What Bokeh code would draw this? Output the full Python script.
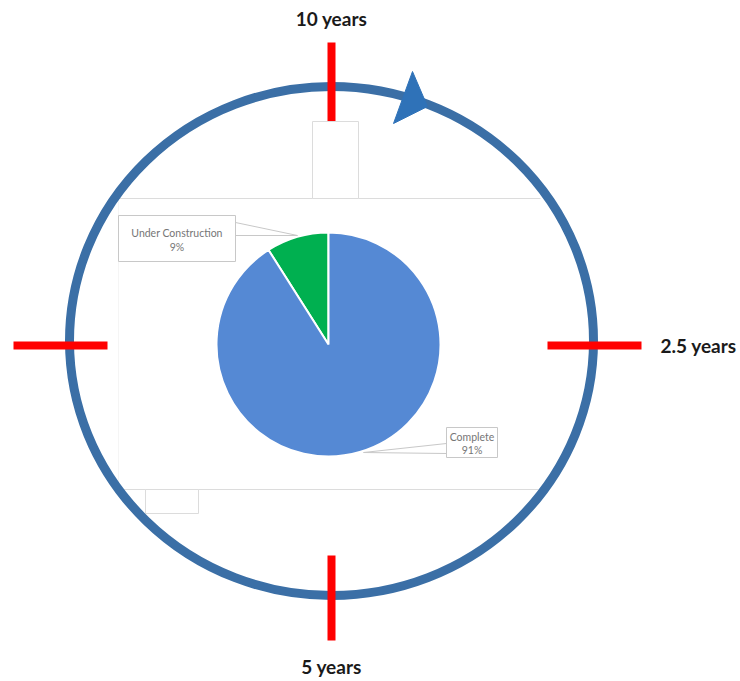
import math
from bokeh.plotting import figure
from bokeh.models import Range1d
from bokeh.core.properties import value
from bokeh.embed import file_html
from bokeh.resources import INLINE

# ---- data ----
categories = ["Complete", "Under Construction"]
shares = [91, 9]
pie_colors = ["#5589d4", "#00b050"]
timeline_labels = ["10 years", "2.5 years", "5 years"]

W, H = 740, 681
p = figure(width=W, height=H, output_backend="svg", toolbar_location=None,
           x_range=Range1d(0, W), y_range=Range1d(0, H),
           min_border=0, outline_line_color=None)
p.axis.visible = False
p.grid.visible = False
p.background_fill_color = "white"
p.border_fill_color = "white"

def Y(y):  # image pixel row -> data y
    return H - y

# chart-area faint outlines
grey = "#dcdcdc"
p.line([118, 540], [Y(198), Y(198)], line_color=grey, line_width=1)
p.line([118, 118], [Y(198), Y(489)], line_color="#f5f5f5", line_width=1)
p.line([118, 538], [Y(489), Y(489)], line_color=grey, line_width=1)
p.quad(left=145, right=198, top=Y(489), bottom=Y(513), fill_color="white",
       line_color=grey, line_width=1)

# ring
p.ellipse(x=331, y=Y(340.5), width=524, height=509, fill_color=None,
          line_color="#3b6fa6", line_width=9)
# arrow head
p.patch([412, 427, 393], [Y(71), Y(106), Y(123)], fill_color="#2f72b8",
        line_color="#2f72b8", line_width=1)

# red ticks
red = "#ff0000"
p.line([331, 331], [Y(42), Y(125)], line_color=red, line_width=8)
p.line([331, 331], [Y(555), Y(640)], line_color=red, line_width=8)
p.line([13, 107], [Y(345), Y(345)], line_color=red, line_width=8)
p.line([547, 641], [Y(345), Y(345)], line_color=red, line_width=8)

# white box covering tick
p.quad(left=312, right=358, top=Y(121), bottom=Y(198), fill_color="white",
       line_color=grey, line_width=1)

# pie
cx, cy, r = 328, Y(344), 112
total = sum(shares)
start = math.pi / 2
order = [1, 0]
for i in order:
    ang = shares[i] / total * 2 * math.pi
    p.wedge(x=cx, y=cy, radius=r, start_angle=start, end_angle=start + ang,
            fill_color=pie_colors[i], line_color="white", line_width=2)
    start += ang

# callouts
box_line = "#c8c8c8"
txt_col = "#767676"
p.line([235, 297, 235], [Y(222), Y(235), Y(235)], line_color=box_line, line_width=1)
p.quad(left=118, right=235, top=Y(215), bottom=Y(261), fill_color="white",
       line_color=box_line, line_width=1)
p.text(x=[176.5, 176.5], y=[Y(232), Y(246)],
       text=[categories[1], f"{shares[1]}%"], text_align="center",
       text_baseline="middle", text_color=txt_col, text_font_size="10.5px",
       text_font=value("Lato"))
p.line([446, 363, 446], [Y(443), Y(452), Y(453)], line_color=box_line, line_width=1)
p.quad(left=446, right=497, top=Y(427), bottom=Y(457), fill_color="white",
       line_color=box_line, line_width=1)
p.text(x=[471.5, 471.5], y=[Y(436), Y(449)],
       text=[categories[0], f"{shares[0]}%"], text_align="center",
       text_baseline="middle", text_color=txt_col, text_font_size="10.5px",
       text_font=value("Lato"))

# timeline labels
lab = dict(text_baseline="middle", text_font_size="19px", text_font_style="bold",
           text_color="#1a1a1a", text_font=value("Lato"))
p.text(x=[331], y=[Y(18)], text=[timeline_labels[0]], text_align="center", **lab)
p.text(x=[660], y=[Y(345)], text=[timeline_labels[1]], text_align="left", **lab)
p.text(x=[331], y=[Y(666)], text=[timeline_labels[2]], text_align="center", **lab)

open("out.html", "w").write(file_html(p, INLINE))
